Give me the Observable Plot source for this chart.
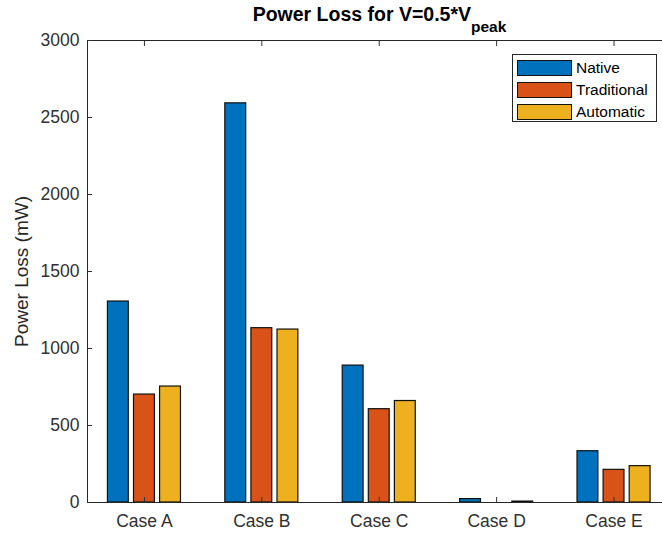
<!DOCTYPE html>
<html>
<head>
<meta charset="utf-8">
<script src="https://cdn.jsdelivr.net/npm/d3@7"></script>
<script src="https://cdn.jsdelivr.net/npm/@observablehq/plot@0.6"></script>
<style>
html, body { margin: 0; padding: 0; background: #fff; overflow: hidden; }
#wrap { position: relative; width: 662px; height: 533px; font-family: "Liberation Sans", Arial, Helvetica, sans-serif; }
#title { position: absolute; top: 4px; left: 87px; width: 585px; text-align: center; font-weight: bold; font-size: 19.5px; line-height: 20px; color: #000; white-space: nowrap; }
#title .sub { font-size: 15.5px; position: relative; top: 11px; }
#legend { position: absolute; left: 512px; top: 54px; width: 145px; height: 68px; box-sizing: border-box; border: 1px solid #262626; background: #fff; }
#legend .sw { position: absolute; left: 4px; width: 55px; height: 16px; box-sizing: border-box; border: 1.3px solid #111; }
#legend .lb { position: absolute; left: 63px; font-size: 15.5px; line-height: 16px; color: #000; white-space: nowrap; }
svg { display: block; }
</style>
</head>
<body>
<div id="wrap">
  <div id="chart"></div>
  <div id="title"></div>
  <div id="legend"></div>
</div>
<script>
// ---- data ----
const cases = ["Case A", "Case B", "Case C", "Case D", "Case E"];
const series = ["Native", "Traditional", "Automatic"];
const colors = ["#0072BD", "#D95319", "#EDB120"];
const native = [1305, 2592, 889, 22, 333];
const traditional = [701, 1132, 606, 0, 212];
const automatic = [753, 1123, 659, 6, 236];
const yTicks = [0, 500, 1000, 1500, 2000, 2500, 3000];
const xLimits = [0.515, 5.5];
const yLimits = [0, 3000];
const titleMain = "Power Loss for V=0.5*V";
const titleSub = "peak";
const yLabel = "Power Loss (mW)";

// ---- build table ----
const valuesBySeries = [native, traditional, automatic];
const rows = [];
cases.forEach((c, i) => series.forEach((s, k) => rows.push({ case: c, pos: i + 1, series: s, k, value: valuesBySeries[k][i] })));

// MATLAB grouped-bar layout for 3 series
const groupStep = 2 / 9;
const barW = 0.8 * groupStep;

const chart = Plot.plot({
  width: 662,
  height: 533,
  marginLeft: 87,
  marginRight: 0,
  marginTop: 40,
  marginBottom: 31,
  style: { fontFamily: '"Liberation Sans", Arial, Helvetica, sans-serif', fontSize: "17.5px", color: "#303030", background: "transparent", overflow: "hidden" },
  x: { type: "linear", domain: xLimits, range: [87, 87 + (xLimits[1] - xLimits[0]) * 117.4] },
  y: { domain: yLimits },
  color: { domain: series, range: colors },
  marks: [
    Plot.rectY(rows, {
      x1: d => d.pos + (d.k - 1) * groupStep - barW / 2,
      x2: d => d.pos + (d.k - 1) * groupStep + barW / 2,
      y1: 0,
      y2: "value",
      fill: "series",
      stroke: "#111",
      strokeWidth: 1.2
    }),
    Plot.ruleY([yLimits[0], yLimits[1]], { stroke: "#262626", strokeWidth: 1 }),
    Plot.ruleX([xLimits[0]], { stroke: "#262626", strokeWidth: 1 }),
    Plot.axisY({ ticks: yTicks, tickSize: -5, tickPadding: 13, tickFormat: d => String(d), label: null }),
    Plot.axisX({ anchor: "bottom", ticks: [1, 2, 3, 4, 5], tickSize: -5, tickPadding: 17, tickFormat: i => cases[i - 1], label: null }),
    Plot.axisX({ anchor: "top", ticks: [1, 2, 3, 4, 5], tickSize: -5, tickFormat: () => "", label: null }),
    Plot.text([yLabel], { frameAnchor: "left", textAnchor: "middle", text: d => d, rotate: -90, dx: -66, fontSize: 19, fill: "#262626" })
  ]
});
document.getElementById("chart").append(chart);

// title with subscript
const t = document.getElementById("title");
t.textContent = titleMain;
const sub = document.createElement("span");
sub.className = "sub";
sub.textContent = titleSub;
t.append(sub);

// legend
const lg = document.getElementById("legend");
series.forEach((s, k) => {
  const top = 5 + k * 22;
  const sw = document.createElement("div");
  sw.className = "sw";
  sw.style.top = top + "px";
  sw.style.background = colors[k];
  const lb = document.createElement("div");
  lb.className = "lb";
  lb.style.top = top + "px";
  lb.textContent = s;
  lg.append(sw, lb);
});
</script>
</body>
</html>
